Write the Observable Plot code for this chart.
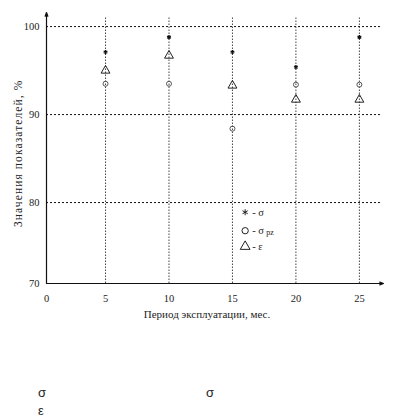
<!DOCTYPE html>
<html>
<head>
<meta charset="utf-8">
<script src="https://cdn.jsdelivr.net/npm/d3@7"></script>
<script src="https://cdn.jsdelivr.net/npm/@observablehq/plot@0.6"></script>
<style>
  body { margin: 0; background: #fff; }
  #wrap { width: 411px; }
  #wrap svg, #wrap svg text { font-family: "Liberation Serif", "Times New Roman", serif; }
  #below { position: relative; width: 411px; height: 90px; font-family: "Liberation Sans", Arial, sans-serif; font-size: 13px; color: #222; }
  #below span { position: absolute; line-height: 16px; }
</style>
</head>
<body>
<div id="wrap"></div>
<div id="below">
  <span style="left:38px; top:55px;">σ</span>
  <span style="left:206px; top:55px;">σ</span>
  <span style="left:38px; top:73px;">ε</span>
</div>
<script>
// ---- data ----
const months   = [5, 10, 15, 20, 25];
const sigma    = [97.1, 98.8, 97.1, 95.4, 98.8];   // *
const sigmaPz  = [93.5, 93.5, 88.4, 93.4, 93.4];   // o
const epsilon  = [95.0, 96.7, 93.3, 91.7, 91.7];   // Δ
const xTicks   = [0, 5, 10, 15, 20, 25];
const yTicks   = [70, 80, 90, 100];
const yGridVals = [80, 90, 100];
const xTitle = "Период эксплуатации, мес.";
const yTitle = "Значения показателей, %";
const legendLabels = ["- σ", "- σ", "- ε"];
const legendSub = ["", "pz", ""];
const legendSymbols = ["asterisk", "circle", "triangle"];

// ---- layout ----
const xDomain = [0.35, 26.9];
const yDomain = [70.8, 101.6];
const gridTop = 101.1;
const gridRight = 26.8;
const legendX = 16.0;
const legendY = [78.9, 76.8, 75.0];

const rowsSigma = months.map((m, i) => ({m, v: sigma[i]}));
const rowsPz = months.map((m, i) => ({m, v: sigmaPz[i]}));
const rowsEps = months.map((m, i) => ({m, v: epsilon[i]}));
const legendRows = legendLabels.map((t, i) => ({t, sub: legendSub[i], s: legendSymbols[i], y: legendY[i]}));

const font = "Liberation Serif";
const symR = {asterisk: 2, circle: 2.5, triangle: 3.3};

const chart = Plot.plot({
  width: 411,
  height: 330,
  marginLeft: 46,
  marginRight: 28,
  marginTop: 12,
  marginBottom: 47,
  style: {fontFamily: font, fontSize: "10.5px", color: "#222", background: "#fff"},
  x: {domain: xDomain, clamp: true, axis: null},
  y: {domain: yDomain, clamp: true, axis: null},
  marks: [
    // grid
    Plot.ruleY(yGridVals, {x1: xDomain[0], x2: gridRight, stroke: "#111", strokeDasharray: "2,2", strokeWidth: 1}),
    Plot.ruleX(months, {y1: yDomain[0], y2: gridTop, stroke: "#444", strokeDasharray: "1.5,1.5", strokeWidth: 1}),
    // axes
    Plot.arrow([0], {x1: xDomain[0], y1: yDomain[0], x2: xDomain[0], y2: yDomain[1], stroke: "#111", strokeWidth: 1.2, headLength: 5, headAngle: 40}),
    Plot.arrow([0], {x1: xDomain[0], y1: yDomain[0], x2: xDomain[1], y2: yDomain[0], stroke: "#111", strokeWidth: 1.2, headLength: 5, headAngle: 40}),
    // tick labels
    Plot.text(yTicks, {x: xDomain[0], y: d => d, text: d => String(d), textAnchor: "end", dx: -7, fontSize: 10.5, fontFamily: font, fill: "#222"}),
    Plot.text(xTicks, {x: d => d, y: yDomain[0], text: d => String(d), dy: 15, fontSize: 10.5, fontFamily: font, fill: "#222"}),
    // titles
    Plot.text([xTitle], {frameAnchor: "bottom", text: d => d, dy: 34, dx: -8, fontSize: 11, fontFamily: font, fill: "#222"}),
    Plot.text([yTitle], {x: xDomain[0], y: 85.6, text: d => d, rotate: -90, dx: -28, fontSize: 11.5, fontFamily: font, fill: "#222", title: null}),
    // data
    Plot.dot(rowsSigma, {x: "m", y: "v", symbol: "asterisk", r: symR.asterisk, stroke: "#111", strokeWidth: 1.3}),
    Plot.dot(rowsPz, {x: "m", y: "v", symbol: "circle", r: symR.circle, stroke: "#555", strokeWidth: 1, fill: "none"}),
    Plot.dot(rowsEps, {x: "m", y: "v", symbol: "triangle", r: symR.triangle, stroke: "#222", strokeWidth: 1, fill: "none"}),
    // legend
    Plot.dot(legendRows, {x: legendX, y: "y", symbol: "s", r: d => symR[d.s], stroke: "#222", fill: "none", strokeWidth: 1}),
    Plot.text(legendRows, {x: legendX, y: "y", text: "t", textAnchor: "start", dx: 7, fontSize: 10.5, fontFamily: font, fill: "#222"}),
    Plot.text(legendRows, {x: legendX, y: "y", text: "sub", textAnchor: "start", dx: 21, dy: 2, fontSize: 8, fontFamily: font, fill: "#222"})
  ]
});
// widen the y title's letter spacing to match the reference
d3.select(chart).selectAll("text").filter(function () { return this.textContent === yTitle; })
  .style("letter-spacing", "1.1px");
document.getElementById("wrap").appendChild(chart);
</script>
</body>
</html>
